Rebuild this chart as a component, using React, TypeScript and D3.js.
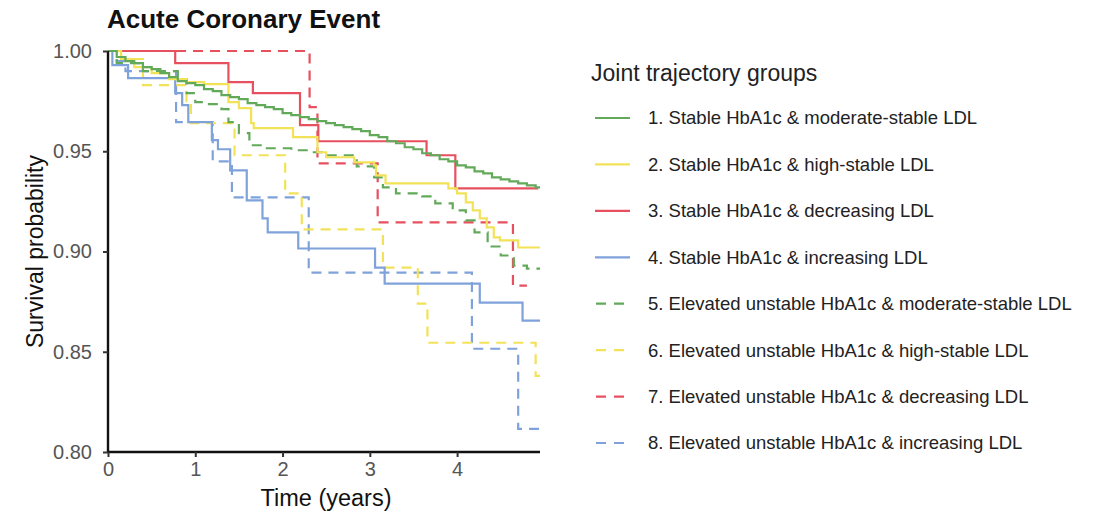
import React, { useEffect, useRef } from "react";
import * as d3 from "d3";

// Kaplan-Meier step points [time in years, survival]
const curve1: [number, number][] = [
  [0, 1.0], [0.1, 0.997], [0.2, 0.995], [0.3, 0.994], [0.4, 0.992], [0.5, 0.991],
  [0.6, 0.989], [0.7, 0.987], [0.8, 0.985], [0.9, 0.984], [1.0, 0.983], [1.1, 0.981],
  [1.2, 0.98], [1.3, 0.978], [1.4, 0.977], [1.5, 0.976], [1.6, 0.974], [1.7, 0.973],
  [1.8, 0.972], [1.9, 0.971], [2.0, 0.969], [2.1, 0.968], [2.2, 0.967], [2.3, 0.966],
  [2.4, 0.965], [2.5, 0.964], [2.6, 0.963], [2.7, 0.962], [2.8, 0.961], [2.9, 0.96],
  [3.0, 0.958], [3.1, 0.957], [3.2, 0.955], [3.3, 0.954], [3.4, 0.952], [3.5, 0.951],
  [3.6, 0.949], [3.7, 0.948], [3.8, 0.946], [3.9, 0.945], [4.0, 0.943], [4.1, 0.942],
  [4.2, 0.94], [4.3, 0.939], [4.4, 0.937], [4.5, 0.936], [4.6, 0.935], [4.7, 0.934],
  [4.8, 0.933], [4.9, 0.932],
];
const curve2: [number, number][] = [
  [0, 1.0], [0.15, 0.996], [0.3, 0.992], [0.5, 0.989], [0.7, 0.986], [0.9, 0.9845],
  [1.1, 0.9835], [1.38, 0.9745], [1.5, 0.9715], [1.64, 0.964], [1.67, 0.9615],
  [2.12, 0.957], [2.4, 0.9495], [2.5, 0.947], [2.82, 0.9445], [3.05, 0.943],
  [3.07, 0.938], [3.18, 0.934], [3.9, 0.9315], [4.0, 0.929], [4.1, 0.9245],
  [4.18, 0.9205], [4.26, 0.9165], [4.34, 0.912], [4.42, 0.907], [4.49, 0.9055],
  [4.7, 0.902],
];
const curve3: [number, number][] = [
  [0, 1.0], [0.77, 0.994], [1.38, 0.9845], [1.66, 0.979], [2.2, 0.963],
  [2.41, 0.955], [3.65, 0.948], [3.98, 0.9315],
];
const curve4: [number, number][] = [
  [0, 1.0], [0.05, 0.993], [0.23, 0.9865], [0.77, 0.979], [0.85, 0.973],
  [0.92, 0.9645], [1.19, 0.9555], [1.26, 0.951], [1.4, 0.9405], [1.59, 0.9255],
  [1.77, 0.9165], [1.83, 0.9095], [2.18, 0.9015], [3.06, 0.892], [3.17, 0.884],
  [4.26, 0.8745], [4.75, 0.8655],
];
const curve5: [number, number][] = [
  [0, 1.0], [0.1, 0.994], [0.4, 0.99], [0.8, 0.986], [0.9, 0.979], [1.0, 0.9745],
  [1.1, 0.9735], [1.3, 0.971], [1.38, 0.9645], [1.5, 0.959], [1.62, 0.953],
  [1.8, 0.9515], [2.1, 0.9505], [2.3, 0.9495], [2.45, 0.948], [2.85, 0.9425],
  [3.05, 0.937], [3.15, 0.932], [3.3, 0.929], [3.6, 0.9275], [3.75, 0.924],
  [3.95, 0.9205], [4.1, 0.9155], [4.2, 0.9095], [4.35, 0.9025], [4.5, 0.898],
  [4.65, 0.893], [4.8, 0.8915],
];
const curve6: [number, number][] = [
  [0, 1.0], [0.15, 0.996], [0.4, 0.983], [0.9, 0.975], [0.95, 0.964], [1.45, 0.948],
  [2.03, 0.929], [2.22, 0.911], [3.15, 0.892], [3.55, 0.874], [3.66, 0.8545],
  [4.9, 0.838],
];
const curve7: [number, number][] = [
  [0, 1.0], [2.31, 0.972], [2.4, 0.944], [3.09, 0.9145], [4.64, 0.883],
];
const curve8: [number, number][] = [
  [0, 1.0], [0.1, 0.995], [0.2, 0.99], [0.78, 0.9645], [1.2, 0.945], [1.42, 0.927],
  [2.3, 0.8895], [4.17, 0.8515], [4.7, 0.8115],
];

const curves = [curve1, curve2, curve3, curve4, curve5, curve6, curve7, curve8];
const endTimes = [4.95, 4.95, 4.93, 4.95, 4.95, 4.95, 4.8, 4.95];

const groupLabels = [
  "1. Stable HbA1c & moderate-stable LDL",
  "2. Stable HbA1c & high-stable LDL",
  "3. Stable HbA1c & decreasing LDL",
  "4. Stable HbA1c & increasing LDL",
  "5. Elevated unstable HbA1c & moderate-stable LDL",
  "6. Elevated unstable HbA1c & high-stable LDL",
  "7. Elevated unstable HbA1c & decreasing LDL",
  "8. Elevated unstable HbA1c & increasing LDL",
];

const xTicks = [0, 1, 2, 3, 4];
const yTicks = [0.8, 0.85, 0.9, 0.95, 1.0];

// styles
const palette = ["#62a95a", "#f2e258", "#e6505f", "#7fa2db"];
const colorFor = (i: number) => palette[i % 4];
const dashFor = (i: number) => (i >= 4 ? "10,7" : null);

const WIDTH = 1104;
const HEIGHT = 515;
const FONT = "'Liberation Sans', Arial, sans-serif";

const App: React.FC = () => {
  const svgRef = useRef<SVGSVGElement>(null);

  useEffect(() => {
    if (!svgRef.current) return;
    const svg = d3.select(svgRef.current);
    svg.selectAll("*").remove();

    const x = d3.scaleLinear().domain([0, 4.95]).range([108, 540]);
    const y = d3.scaleLinear().domain([0.8, 1.0]).range([452, 51]);

    // title
    svg
      .append("text")
      .attr("x", 107)
      .attr("y", 28)
      .attr("font-family", FONT)
      .attr("font-weight", "bold")
      .attr("font-size", 26)
      .attr("fill", "#111")
      .text("Acute Coronary Event");

    // curves
    const line = d3
      .line<[number, number]>()
      .x((d) => x(d[0]))
      .y((d) => y(d[1]))
      .curve(d3.curveStepAfter);

    const plot = svg.append("g");
    // draw in reverse so group 1 sits on top
    [...curves.keys()].reverse().forEach((i) => {
      const pts = curves[i];
      const last = pts[pts.length - 1];
      const data: [number, number][] = [...pts, [endTimes[i], last[1]]];
      const path = plot
        .append("path")
        .attr("d", line(data) || "")
        .attr("fill", "none")
        .attr("stroke", colorFor(i))
        .attr("stroke-width", 2.2);
      const dash = dashFor(i);
      if (dash) path.attr("stroke-dasharray", dash);
    });

    // axes
    const xAxis = svg
      .append("g")
      .attr("transform", `translate(0, ${y(0.8)})`)
      .call(
        d3
          .axisBottom(x)
          .tickValues(xTicks)
          .tickSize(5)
          .tickPadding(5)
          .tickFormat((d) => d3.format("d")(d as number))
      );
    const yAxis = svg
      .append("g")
      .attr("transform", `translate(${x(0)}, 0)`)
      .call(
        d3
          .axisLeft(y)
          .tickValues(yTicks)
          .tickSize(5)
          .tickPadding(11)
          .tickFormat((d) => d3.format(".2f")(d as number))
      );

    [xAxis, yAxis].forEach((ax) => {
      ax.select(".domain").attr("stroke", "#111").attr("stroke-width", 2.4);
      ax.selectAll(".tick line").attr("stroke", "#333").attr("stroke-width", 2);
      ax.selectAll(".tick text")
        .attr("font-family", FONT)
        .attr("font-size", 20)
        .attr("fill", "#555");
    });
    xAxis.select(".domain").attr("d", `M${x(0)},0H${x(4.95)}`);
    yAxis.select(".domain").attr("d", `M0,${y(0.8)}V${y(1.0)}`);

    // axis titles
    svg
      .append("text")
      .attr("x", 326)
      .attr("y", 506)
      .attr("text-anchor", "middle")
      .attr("font-family", FONT)
      .attr("font-size", 23.5)
      .attr("fill", "#111")
      .text("Time (years)");

    svg
      .append("text")
      .attr("transform", `translate(43, ${(y(0.8) + y(1.0)) / 2}) rotate(-90)`)
      .attr("text-anchor", "middle")
      .attr("font-family", FONT)
      .attr("font-size", 23)
      .attr("fill", "#111")
      .text("Survival probability");

    // legend
    const legend = svg.append("g");
    legend
      .append("text")
      .attr("x", 591)
      .attr("y", 81)
      .attr("font-family", FONT)
      .attr("font-size", 23)
      .attr("fill", "#222")
      .text("Joint trajectory groups");

    const rowY = d3.scalePoint<number>().domain(d3.range(8)).range([118, 443]);
    groupLabels.forEach((label, i) => {
      const yy = rowY(i) as number;
      const key = legend
        .append("line")
        .attr("x1", 595)
        .attr("x2", 630)
        .attr("y1", yy)
        .attr("y2", yy)
        .attr("stroke", colorFor(i))
        .attr("stroke-width", 2.2);
      if (dashFor(i)) key.attr("stroke-dasharray", "10,8").attr("x1", 596);
      legend
        .append("text")
        .attr("x", 648)
        .attr("y", yy)
        .attr("dy", "0.35em")
        .attr("font-family", FONT)
        .attr("font-size", 18.5)
        .attr("fill", "#222")
        .text(label);
    });
  }, []);

  return (
    <svg
      ref={svgRef}
      width={WIDTH}
      height={HEIGHT}
      style={{ position: "absolute", left: 0, top: 0, background: "#fff" }}
    />
  );
};

export default App;
